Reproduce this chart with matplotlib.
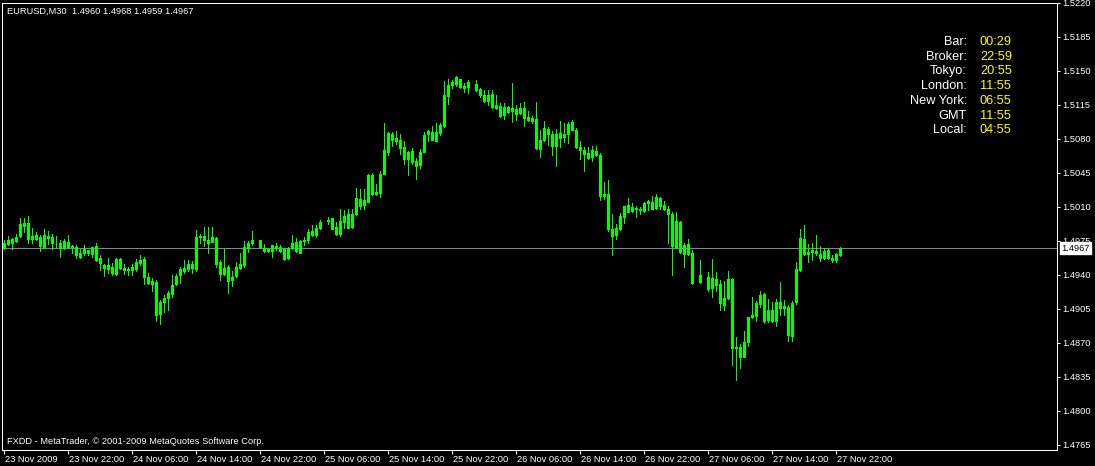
import numpy as np
import matplotlib
matplotlib.use("Agg")
import matplotlib.pyplot as plt
import matplotlib.transforms as mtransforms

nan = np.nan

# EURUSD M30 bars, 23 Nov 2009 14:00 .. 27 Nov 2009 22:30
opens = [
    1.4967, 1.4971, 1.4973, 1.4975, 1.4980, 1.4990, 1.4993, 1.4977, 1.4977, 1.4979,
    1.4968, 1.4980, 1.4979, 1.4973, 1.4972, 1.4967, 1.4974, 1.4969, 1.4968, 1.4958,
    1.4962, 1.4965, 1.4961, 1.4969, 1.4957, 1.4950, 1.4946, 1.4948, 1.4941, 1.4956,
    1.4947, 1.4945, 1.4945, 1.4946, 1.4952, 1.4956, 1.4938, 1.4933, 1.4932, 1.4899,
    1.4912, 1.4916, 1.4920, 1.4930, 1.4940, 1.4944, 1.4946, 1.4951, 1.4946, 1.4979,
    1.4980, 1.4976, 1.4974, 1.4978, 1.4953, 1.4941, 1.4948, 1.4934, 1.4939, 1.4947,
    1.4950, 1.4967, 1.4972, nan, 1.4976, 1.4967, 1.4964, 1.4964, 1.4969, 1.4968,
    1.4966, 1.4957, 1.4967, 1.4974, 1.4962, 1.4975, 1.4976, 1.4985, 1.4981, 1.4988,
    nan, 1.4995, 1.4998, 1.4989, 1.4982, 1.4994, 1.5002, 1.4989, 1.5002, 1.5018,
    1.5012, 1.5015, 1.5043, 1.5023, 1.5024, 1.5044, 1.5066, 1.5085, 1.5081, 1.5079,
    1.5071, 1.5059, 1.5067, 1.5057, 1.5053, 1.5066, 1.5085, 1.5087, 1.5078, 1.5086,
    1.5093, 1.5124, 1.5135, 1.5136, 1.5141, 1.5132, 1.5133, nan, 1.5136, 1.5131,
    1.5125, 1.5119, 1.5126, 1.5111, 1.5114, 1.5104, 1.5113, 1.5108, 1.5110, 1.5106,
    1.5111, 1.5102, 1.5098, 1.5100, 1.5069, 1.5079, 1.5090, 1.5085, 1.5072, 1.5086,
    1.5082, 1.5085, 1.5097, 1.5089, 1.5071, 1.5068, 1.5065, 1.5061, 1.5067, 1.5063,
    1.5021, 1.5023, 1.4987, 1.4981, 1.4987, 1.4999, 1.5012, 1.5005, 1.5009, 1.5007,
    1.5005, 1.5014, 1.5015, 1.5009, 1.5019, 1.5012, 1.5008, 1.5002, 1.4968, 1.4994,
    1.4961, 1.4971, 1.4962, nan, 1.4932, nan, 1.4938, 1.4926, 1.4935, 1.4930,
    1.4909, 1.4916, 1.4935, 1.4864, 1.4865, 1.4855, 1.4871, 1.4896, 1.4897, 1.4910,
    1.4920, 1.4893, 1.4903, 1.4892, 1.4912, 1.4906, 1.4907, 1.4877, 1.4912, 1.4945,
    1.4977, 1.4961, 1.4963, 1.4964, 1.4961, 1.4957, 1.4965, 1.4957, 1.4955, 1.4960,
]
highs = [
    1.4976, 1.4980, 1.4978, 1.4982, 1.4998, 1.4998, 1.5000, 1.4988, 1.4984, 1.4981,
    1.4987, 1.4985, 1.4982, 1.4980, 1.4976, 1.4977, 1.4981, 1.4970, 1.4970, 1.4966,
    1.4970, 1.4965, 1.4968, 1.4973, 1.4960, 1.4951, 1.4957, 1.4952, 1.4957, 1.4957,
    1.4951, 1.4948, 1.4951, 1.4956, 1.4960, 1.4958, 1.4942, 1.4936, 1.4934, 1.4914,
    1.4919, 1.4923, 1.4940, 1.4941, 1.4948, 1.4955, 1.4955, 1.4954, 1.4986, 1.4982,
    1.4989, 1.4989, 1.4989, 1.4979, 1.4955, 1.4966, 1.4950, 1.4944, 1.4953, 1.4962,
    1.4975, 1.4975, 1.4985, nan, 1.4976, 1.4971, 1.4966, 1.4970, 1.4972, 1.4970,
    1.4967, 1.4968, 1.4981, 1.4978, 1.4976, 1.4979, 1.4987, 1.4991, 1.4991, 1.4996,
    nan, 1.4999, 1.4998, 1.4994, 1.5007, 1.5006, 1.5007, 1.5008, 1.5029, 1.5028,
    1.5028, 1.5044, 1.5045, 1.5033, 1.5047, 1.5096, 1.5087, 1.5087, 1.5088, 1.5085,
    1.5078, 1.5067, 1.5070, 1.5060, 1.5069, 1.5087, 1.5089, 1.5093, 1.5096, 1.5096,
    1.5139, 1.5141, 1.5140, 1.5144, 1.5141, 1.5137, 1.5140, nan, 1.5140, 1.5132,
    1.5130, 1.5130, 1.5130, 1.5125, 1.5117, 1.5117, 1.5114, 1.5137, 1.5115, 1.5117,
    1.5118, 1.5108, 1.5103, 1.5118, 1.5089, 1.5098, 1.5092, 1.5088, 1.5090, 1.5098,
    1.5096, 1.5097, 1.5099, 1.5091, 1.5078, 1.5071, 1.5071, 1.5072, 1.5072, 1.5065,
    1.5035, 1.5037, 1.5002, 1.4992, 1.5003, 1.5011, 1.5019, 1.5014, 1.5011, 1.5010,
    1.5015, 1.5017, 1.5021, 1.5023, 1.5020, 1.5016, 1.5011, 1.5004, 1.5004, 1.4995,
    1.4972, 1.4977, 1.4965, nan, 1.4955, nan, 1.4943, 1.4956, 1.4943, 1.4934,
    1.4933, 1.4944, 1.4936, 1.4876, 1.4869, 1.4882, 1.4896, 1.4917, 1.4913, 1.4923,
    1.4921, 1.4915, 1.4912, 1.4915, 1.4932, 1.4914, 1.4909, 1.4913, 1.4953, 1.4987,
    1.4991, 1.4971, 1.4973, 1.4981, 1.4969, 1.4967, 1.4967, 1.4960, 1.4962, 1.4968,
]
lows = [
    1.4966, 1.4970, 1.4966, 1.4974, 1.4979, 1.4984, 1.4972, 1.4973, 1.4976, 1.4964,
    1.4967, 1.4971, 1.4966, 1.4968, 1.4958, 1.4966, 1.4968, 1.4962, 1.4957, 1.4957,
    1.4960, 1.4960, 1.4958, 1.4954, 1.4945, 1.4939, 1.4942, 1.4940, 1.4940, 1.4946,
    1.4941, 1.4940, 1.4940, 1.4944, 1.4950, 1.4930, 1.4930, 1.4923, 1.4892, 1.4889,
    1.4901, 1.4904, 1.4917, 1.4929, 1.4931, 1.4942, 1.4944, 1.4942, 1.4944, 1.4972,
    1.4969, 1.4962, 1.4974, 1.4948, 1.4934, 1.4940, 1.4921, 1.4928, 1.4937, 1.4946,
    1.4948, 1.4963, 1.4970, nan, 1.4967, 1.4963, 1.4963, 1.4958, 1.4965, 1.4963,
    1.4955, 1.4956, 1.4966, 1.4963, 1.4962, 1.4970, 1.4972, 1.4980, 1.4979, 1.4987,
    nan, 1.4992, 1.4987, 1.4981, 1.4980, 1.4988, 1.4988, 1.4988, 1.5001, 1.5008,
    1.5007, 1.5015, 1.5022, 1.5022, 1.5020, 1.5044, 1.5063, 1.5072, 1.5074, 1.5064,
    1.5054, 1.5042, 1.5054, 1.5038, 1.5050, 1.5066, 1.5078, 1.5079, 1.5077, 1.5084,
    1.5092, 1.5116, 1.5132, 1.5134, 1.5132, 1.5128, 1.5127, nan, 1.5129, 1.5123,
    1.5118, 1.5115, 1.5111, 1.5110, 1.5102, 1.5100, 1.5106, 1.5097, 1.5099, 1.5105,
    1.5093, 1.5098, 1.5096, 1.5069, 1.5061, 1.5078, 1.5073, 1.5063, 1.5052, 1.5071,
    1.5076, 1.5075, 1.5089, 1.5070, 1.5059, 1.5047, 1.5059, 1.5057, 1.5062, 1.5017,
    1.5018, 1.4985, 1.4960, 1.4977, 1.4986, 1.4993, 1.5004, 1.5004, 1.4999, 1.5002,
    1.5004, 1.5006, 1.5007, 1.5008, 1.5007, 1.5006, 1.4972, 1.4940, 1.4967, 1.4962,
    1.4948, 1.4960, 1.4930, nan, 1.4931, nan, 1.4923, 1.4917, 1.4923, 1.4903,
    1.4903, 1.4915, 1.4847, 1.4831, 1.4844, 1.4855, 1.4866, 1.4895, 1.4892, 1.4907,
    1.4890, 1.4891, 1.4891, 1.4887, 1.4898, 1.4898, 1.4872, 1.4872, 1.4910, 1.4944,
    1.4960, 1.4953, 1.4955, 1.4960, 1.4954, 1.4956, 1.4956, 1.4953, 1.4953, 1.4959,
]
closes = [
    1.4973, 1.4976, 1.4977, 1.4979, 1.4992, 1.4993, 1.4977, 1.4980, 1.4981, 1.4969,
    1.4981, 1.4978, 1.4973, 1.4972, 1.4967, 1.4975, 1.4968, 1.4968, 1.4960, 1.4962,
    1.4966, 1.4962, 1.4968, 1.4955, 1.4952, 1.4947, 1.4950, 1.4942, 1.4956, 1.4947,
    1.4945, 1.4946, 1.4948, 1.4953, 1.4955, 1.4937, 1.4931, 1.4930, 1.4898, 1.4912,
    1.4916, 1.4921, 1.4929, 1.4939, 1.4946, 1.4947, 1.4951, 1.4947, 1.4979, 1.4980,
    1.4976, 1.4972, 1.4979, 1.4951, 1.4941, 1.4947, 1.4933, 1.4938, 1.4948, 1.4951,
    1.4968, 1.4973, 1.4976, nan, 1.4968, 1.4964, 1.4966, 1.4970, 1.4967, 1.4964,
    1.4956, 1.4967, 1.4973, 1.4964, 1.4975, 1.4976, 1.4984, 1.4981, 1.4988, 1.4994,
    nan, 1.4996, 1.4987, 1.4982, 1.4995, 1.5000, 1.4988, 1.5002, 1.5019, 1.5011,
    1.5017, 1.5042, 1.5023, 1.5025, 1.5044, 1.5068, 1.5086, 1.5079, 1.5078, 1.5070,
    1.5059, 1.5066, 1.5056, 1.5052, 1.5066, 1.5084, 1.5088, 1.5079, 1.5087, 1.5094,
    1.5125, 1.5135, 1.5138, 1.5143, 1.5133, 1.5134, 1.5138, nan, 1.5130, 1.5125,
    1.5119, 1.5125, 1.5112, 1.5115, 1.5103, 1.5112, 1.5107, 1.5111, 1.5105, 1.5111,
    1.5101, 1.5099, 1.5101, 1.5070, 1.5079, 1.5091, 1.5085, 1.5072, 1.5085, 1.5081,
    1.5085, 1.5095, 1.5089, 1.5071, 1.5068, 1.5064, 1.5060, 1.5068, 1.5063, 1.5021,
    1.5023, 1.4987, 1.4980, 1.4988, 1.5000, 1.5011, 1.5004, 1.5010, 1.5007, 1.5006,
    1.5014, 1.5016, 1.5008, 1.5020, 1.5011, 1.5007, 1.5002, 1.4969, 1.4995, 1.4963,
    1.4970, 1.4961, 1.4931, nan, 1.4940, nan, 1.4925, 1.4936, 1.4929, 1.4911,
    1.4916, 1.4935, 1.4864, 1.4865, 1.4855, 1.4871, 1.4896, 1.4898, 1.4911, 1.4919,
    1.4892, 1.4904, 1.4892, 1.4912, 1.4906, 1.4908, 1.4878, 1.4911, 1.4946, 1.4978,
    1.4961, 1.4963, 1.4965, 1.4962, 1.4957, 1.4964, 1.4957, 1.4955, 1.4961, 1.4967,
]

time_labels = ["23 Nov 2009", "23 Nov 22:00", "24 Nov 06:00", "24 Nov 14:00",
               "24 Nov 22:00", "25 Nov 06:00", "25 Nov 14:00", "25 Nov 22:00",
               "26 Nov 06:00", "26 Nov 14:00", "26 Nov 22:00", "27 Nov 06:00",
               "27 Nov 14:00", "27 Nov 22:00"]
price_ticks = [1.4765, 1.4800, 1.4835, 1.4870, 1.4905, 1.4940, 1.4975,
               1.5010, 1.5045, 1.5080, 1.5115, 1.5150, 1.5185, 1.5220]
bid = 1.4967
header = "EURUSD,M30  1.4960 1.4968 1.4959 1.4967"
clock_names = ["Bar:", "Broker:", "Tokyo:", "London:", "New York:", "GMT", "Local:"]
clock_times = ["00:29", "22:59", "20:55", "11:55", "06:55", "11:55", "04:55"]

LIME = "#00FF00"
W, H = 1095, 466
PX = 0.72  # one pixel in points at dpi 100
plt.rcParams['font.family'] = ['Liberation Sans', 'DejaVu Sans']

fig = plt.figure(figsize=(W / 100, H / 100), dpi=100, facecolor="black")
left, right, top, bottom = 2, 1057, 2.5, 449.5
ppu = 9715.0  # pixels per price unit
ax = fig.add_axes([left / W, 1 - bottom / H, (right - left) / W, (bottom - top) / H])
ax.set_facecolor("black")
ax.set_xlim(-0.375, -0.375 + (right - left) / 4)
ax.set_ylim(1.5220 - (bottom - top) / ppu, 1.52201)

n = len(opens)
onepx = 1.0 / ppu
for i in range(n):
    o, h, l, c = opens[i], highs[i], lows[i], closes[i]
    if np.isnan(o):
        continue
    ax.vlines(i, l, h, color=LIME, lw=PX, antialiased=False, zorder=2)
    lo, hi = min(o, c), max(o, c)
    if hi - lo < 0.00004:
        ax.hlines(o, i - 0.3, i + 0.3, color=LIME, lw=PX, antialiased=False, zorder=3)
        continue
    # 3px wide lime body
    ax.vlines(i, lo, hi, color=LIME, lw=3 * PX, antialiased=False, zorder=3)

ax.axhline(bid, color="#778899", lw=PX, antialiased=False, zorder=1)

for s in ax.spines.values():
    s.set_color("white")
    s.set_linewidth(PX)

ax.yaxis.tick_right()
ax.set_yticks(price_ticks)
ax.set_yticklabels([f"{p:.4f}" for p in price_ticks])
ax.tick_params(axis="y", colors="white", direction="out", length=2.2, width=PX,
               pad=1.5, labelsize=6.7, labelcolor="white")

xt = list(range(0, n, 16))
ax.set_xticks(xt)
ax.set_xticklabels(time_labels[:len(xt)], ha="left")
ax.tick_params(axis="x", colors="white", direction="out", length=2.8, width=PX,
               pad=0.8, labelsize=6.7, labelcolor="white")
shift = mtransforms.ScaledTranslation(1.5 / 100, 0, fig.dpi_scale_trans)
for lab in ax.get_xticklabels():
    lab.set_transform(lab.get_transform() + shift)

# bid price box on the price scale, drawn over the 1.4975 label like the terminal does
ax.text(1.0, bid, "1.4967",
        transform=mtransforms.blended_transform_factory(ax.transAxes, ax.transData)
        + mtransforms.ScaledTranslation(4 / 100, 0, fig.dpi_scale_trans),
        ha="left", va="center", fontsize=6.7, color="black", clip_on=False, zorder=10,
        bbox=dict(facecolor="white", edgecolor="white", pad=1.0))

fig.text(7 / W, 1 - 11 / H, header, color="white", fontsize=6.7, va="center", ha="left")
fig.text(7 / W, 1 - 441 / H, "FXDD - MetaTrader, \u00a9 2001-2009 MetaQuotes Software Corp.",
         color="white", fontsize=6.7, va="center", ha="left")

for k, (name, t) in enumerate(zip(clock_names, clock_times)):
    y = 1 - (42 + 14.7 * k) / H
    fig.text(967 / W, y, name, color="white", fontsize=9.2, ha="right", va="center")
    fig.text(980 / W, y, t, color="#FFFF00", fontsize=9.2, ha="left", va="center")

fig.savefig("out.png", dpi=100, facecolor="black")
